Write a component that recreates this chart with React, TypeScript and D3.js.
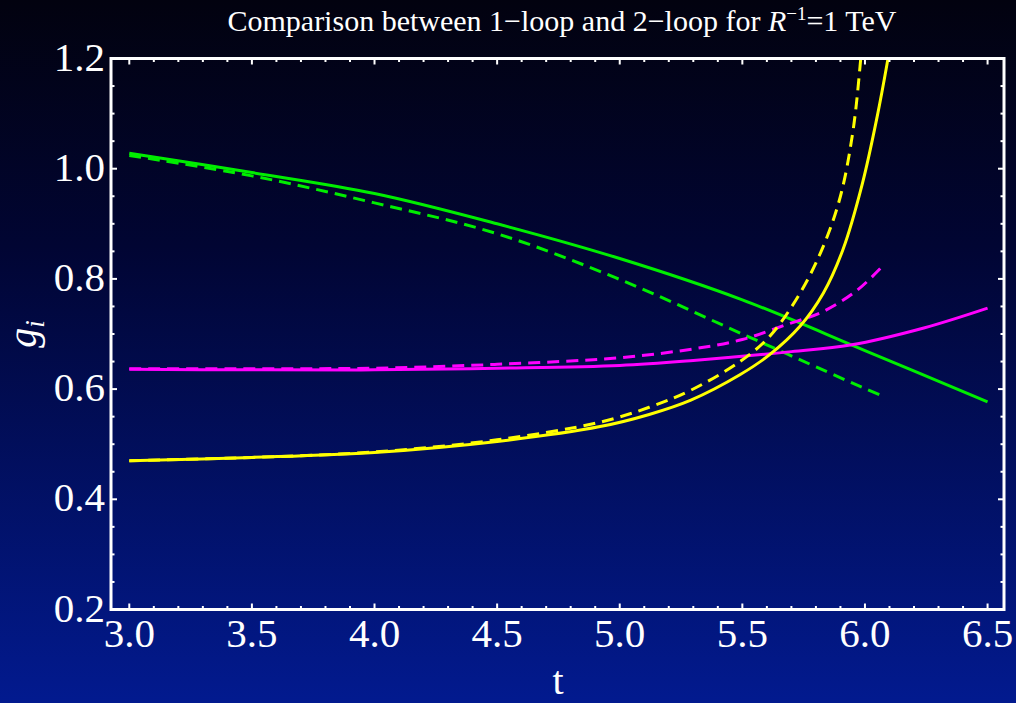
import React from "react";
import * as d3 from "d3";

// ---- data ----
const xTicks = [3.0, 3.5, 4.0, 4.5, 5.0, 5.5, 6.0, 6.5];
const yTicks = [0.2, 0.4, 0.6, 0.8, 1.0, 1.2];

const greenSolidT = [3.0, 3.5, 4.0, 4.5, 5.0, 5.5, 6.0, 6.5];
const greenSolidV = [1.028, 0.993, 0.955, 0.9, 0.837, 0.762, 0.67, 0.577];

const greenDashT = [3.0, 3.5, 4.0, 4.5, 5.0, 5.5, 6.0, 6.08];
const greenDashV = [1.024, 0.987, 0.938, 0.882, 0.799, 0.7, 0.601, 0.586];

const magentaSolidT = [3.0, 3.5, 4.0, 4.5, 5.0, 5.3, 5.7, 5.94, 6.24, 6.5];
const magentaSolidV = [0.636, 0.635, 0.635, 0.638, 0.643, 0.652, 0.668, 0.68, 0.711, 0.747];

const magentaDashT = [3.0, 3.5, 4.0, 4.5, 5.0, 5.3, 5.5, 5.68, 5.83, 5.97, 6.08];
const magentaDashV = [0.637, 0.637, 0.638, 0.645, 0.657, 0.673, 0.69, 0.717, 0.741, 0.78, 0.827];

const yellowSolidT = [3.0, 3.5, 4.0, 4.5, 4.92, 5.12, 5.29, 5.49, 5.61, 5.735, 5.83, 5.91, 5.99, 6.05, 6.09, 6.12];
const yellowSolidV = [0.47, 0.476, 0.485, 0.505, 0.532, 0.554, 0.58, 0.626, 0.662, 0.714, 0.774, 0.853, 0.974, 1.095, 1.19, 1.27];

const yellowDashT = [3.0, 3.5, 4.0, 4.5, 4.92, 5.12, 5.29, 5.49, 5.61, 5.735, 5.83, 5.9, 5.95, 5.98, 6.0];
const yellowDashV = [0.47, 0.476, 0.486, 0.508, 0.54, 0.567, 0.598, 0.65, 0.695, 0.774, 0.859, 0.95, 1.065, 1.186, 1.3];

const W = 1016;
const H = 703;
const left = 111;
const right = 1004;
const top = 58.5;
const bottom = 609.5;

export default function App() {
  const x = d3.scaleLinear().domain([2.9254, 6.567]).range([left, right]);
  const y = d3.scaleLinear().domain([0.2, 1.2]).range([bottom, top]);

  const line = d3
    .line<[number, number]>()
    .x((d) => x(d[0]))
    .y((d) => y(d[1]))
    .curve(d3.curveCatmullRom.alpha(0.5));

  const zip = (t: number[], v: number[]) => t.map((tt, i) => [tt, v[i]] as [number, number]);

  const series = [
    { t: greenSolidT, v: greenSolidV, color: "#00ee00", dash: "" },
    { t: greenDashT, v: greenDashV, color: "#00ee00", dash: "12 7" },
    { t: magentaSolidT, v: magentaSolidV, color: "#ff00ff", dash: "" },
    { t: magentaDashT, v: magentaDashV, color: "#ff00ff", dash: "12 7" },
    { t: yellowSolidT, v: yellowSolidV, color: "#ffff00", dash: "" },
    { t: yellowDashT, v: yellowDashV, color: "#ffff00", dash: "12 7" },
  ];

  const xMinor = d3.range(29, 66).map((k) => k / 10).filter((v) => v >= 2.93 && v <= 6.56);
  const yMinor = d3.range(4, 25).map((k) => k * 0.05);

  const font = "'Liberation Serif', 'Times New Roman', serif";
  const isMajorX = (v: number) => Math.abs(v * 2 - Math.round(v * 2)) < 1e-6;
  const isMajorY = (v: number) => Math.abs(v * 5 - Math.round(v * 5)) < 1e-6;

  return (
    <svg
      width={W}
      height={H}
      style={{ position: "absolute", left: 0, top: 0, display: "block" }}
      fontFamily={font}
    >
      <defs>
        <linearGradient id="bg" x1="0" y1="0" x2="0" y2="1">
          <stop offset="0%" stopColor="#02020f" />
          <stop offset="35%" stopColor="#010533" />
          <stop offset="100%" stopColor="#021a8f" />
        </linearGradient>
        <clipPath id="plotClip">
          <rect x={left} y={top} width={right - left} height={bottom - top} />
        </clipPath>
      </defs>
      <rect x={0} y={0} width={W} height={H} fill="url(#bg)" />

      {/* title */}
      <text x={562} y={31} textAnchor="middle" fill="#ffffff" fontSize={30}>
        Comparison between 1−loop and 2−loop for <tspan fontStyle="italic">R</tspan>
        <tspan dy={-11} fontSize={19}>−1</tspan>
        <tspan dy={11}>=1 TeV</tspan>
      </text>

      {/* curves */}
      <g clipPath="url(#plotClip)">
        {series.map((s, i) => (
          <path
            key={i}
            d={line(zip(s.t, s.v)) || ""}
            fill="none"
            stroke={s.color}
            strokeWidth={3}
            strokeDasharray={s.dash || undefined}
          />
        ))}
      </g>

      {/* ticks */}
      <g stroke="#ffffff" strokeWidth={2}>
        {xMinor.map((v, i) => {
          const len = isMajorX(v) ? 6 : 3.5;
          const px = x(v);
          return (
            <g key={"xt" + i}>
              <line x1={px} x2={px} y1={bottom} y2={bottom - len} />
              <line x1={px} x2={px} y1={top} y2={top + len} />
            </g>
          );
        })}
        {yMinor.map((v, i) => {
          const len = isMajorY(v) ? 6 : 3.5;
          const py = y(v);
          return (
            <g key={"yt" + i}>
              <line x1={left} x2={left + len} y1={py} y2={py} />
              <line x1={right} x2={right - len} y1={py} y2={py} />
            </g>
          );
        })}
      </g>

      {/* frame */}
      <rect
        x={left}
        y={top}
        width={right - left}
        height={bottom - top}
        fill="none"
        stroke="#ffffff"
        strokeWidth={3}
      />

      {/* tick labels */}
      {xTicks.map((v) => (
        <text key={"xl" + v} x={x(v)} y={647} textAnchor="middle" fill="#ffffff" fontSize={41}>
          {v.toFixed(1)}
        </text>
      ))}
      {yTicks.map((v) => (
        <text key={"yl" + v} x={105} y={y(v) + 12} textAnchor="end" fill="#ffffff" fontSize={41}>
          {v.toFixed(1)}
        </text>
      ))}

      {/* axis labels */}
      <text x={558} y={694} textAnchor="middle" fill="#ffffff" fontSize={40}>
        t
      </text>
      <text
        transform="translate(36,334) rotate(-90)"
        textAnchor="middle"
        fill="#ffffff"
        fontSize={40}
        fontStyle="italic"
      >
        g<tspan fontSize={27} dy={8}>i</tspan>
      </text>
    </svg>
  );
}
